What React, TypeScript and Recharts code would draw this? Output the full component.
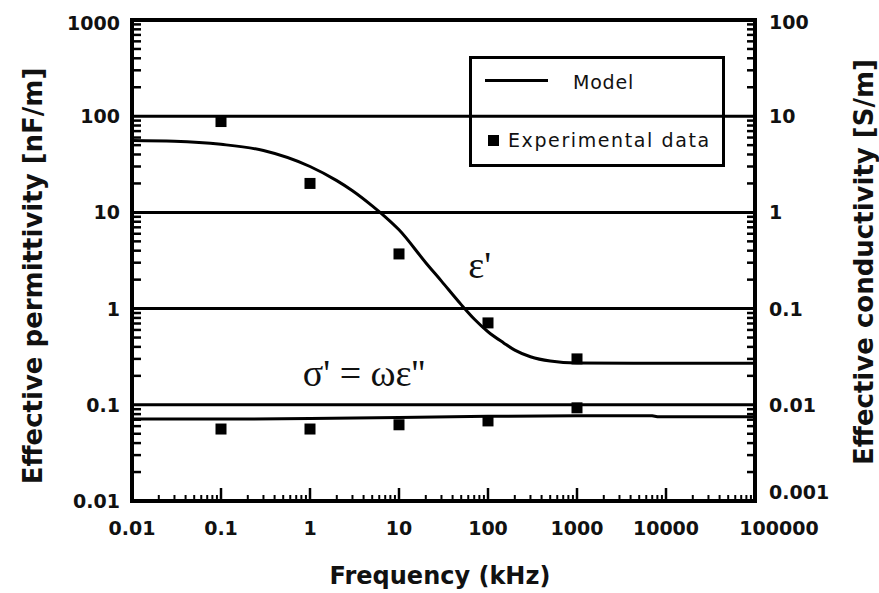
import React from 'react';
import {
  ComposedChart,
  Line,
  Scatter,
  XAxis,
  YAxis,
  ReferenceLine,
  ReferenceDot,
} from 'recharts';

// axis decades (tick labels)
const frequencyTicks = [0.01, 0.1, 1, 10, 100, 1000, 10000, 100000];
const permittivityTicks = [0.01, 0.1, 1, 10, 100, 1000];
const conductivityTicks = [0.001, 0.01, 0.1, 1, 10, 100];
const gridLevels = [0.1, 1, 10, 100];

// model curve, effective permittivity (nF/m)
const modelEpsFreq = [0.01, 0.03, 0.1, 0.3, 1, 2, 3, 5, 7, 10, 20, 30, 50, 70, 100, 150, 200, 300, 500, 1000, 10000, 100000];
const modelEps = [56, 55, 51, 44, 30, 21.4, 16.8, 11.7, 9.0, 6.6, 3.0, 1.93, 1.1, 0.78, 0.575, 0.44, 0.37, 0.316, 0.285, 0.272, 0.27, 0.27];

// model curve, effective conductivity (S/m)
const modelSigmaFreq = [0.01, 0.1, 1, 10, 100, 1000, 7000, 8000, 100000];
const modelSigma = [0.0071, 0.0071, 0.0072, 0.0074, 0.0076, 0.0077, 0.0077, 0.0075, 0.0075];

// experimental points
const expFreq = [0.1, 1, 10, 100, 1000];
const expEps = [88, 20, 3.7, 0.71, 0.3];
const expSigma = [0.0056, 0.0056, 0.0062, 0.0068, 0.0093];

const epsLine = modelEpsFreq.map((f, i) => ({ f, eps: modelEps[i] }));
const sigmaLine = modelSigmaFreq.map((f, i) => ({ f, sigma: modelSigma[i] }));
const epsPoints = expFreq.map((f, i) => ({ f, eps: expEps[i] }));
const sigmaPoints = expFreq.map((f, i) => ({ f, sigma: expSigma[i] }));

const minorOf = (decades: number[]) =>
  decades
    .slice(0, -1)
    .flatMap((d) => [2, 3, 4, 5, 6, 7, 8, 9].map((k) => +(d * k).toPrecision(3)));

const TICK_FONT = 'DejaVu Sans';
const GAP = 10;

// tick lengths in pixels, turned into log-axis offsets (px per decade)
// segments start a little inside the domain, an end point on the edge is dropped
const X_DECADE_PX = 89;
const Y_DECADE_PX = 96;
const upBy = (v: number, px: number) => v * Math.pow(10, px / Y_DECADE_PX);
const rightBy = (v: number, px: number) => v * Math.pow(10, px / X_DECADE_PX);

const BottomLabel = (props: any) => {
  const { x, y, payload } = props;
  const v = payload.value;
  const last = v === 100000;
  return (
    <text
      x={x + (last ? 24 : 0)}
      y={y + 17}
      textAnchor="middle"
      dominantBaseline="central"
      fontFamily={TICK_FONT}
      fontWeight="bold"
      fontSize={19}
      fill="#111"
    >
      {String(v)}
    </text>
  );
};

const LeftLabel = (props: any) => {
  const { x, y, payload } = props;
  const v = payload.value;
  return (
    <text
      x={x - 2}
      y={y + (v === 1000 ? 3 : 0)}
      textAnchor="end"
      dominantBaseline="central"
      fontFamily={TICK_FONT}
      fontWeight="bold"
      fontSize={19}
      fill="#111"
    >
      {String(v)}
    </text>
  );
};

const RightLabel = (props: any) => {
  const { x, y, payload } = props;
  const v = payload.value;
  return (
    <text
      x={x + 4}
      y={y + (v === 0.001 ? -9 : v === 100 ? 2 : 0)}
      textAnchor="start"
      dominantBaseline="central"
      fontFamily={TICK_FONT}
      fontWeight="bold"
      fontSize={19}
      fill="#111"
    >
      {String(v)}
    </text>
  );
};

const square = (p: any) => (
  <rect x={p.cx - 5.5} y={p.cy - 5.5} width={11} height={11} fill="#000" />
);

const annotation = (text: string, size: number) => (p: any) => {
  const vb = p.viewBox || {};
  const cx = vb.x + (vb.width || 0) / 2;
  const cy = vb.y + (vb.height || 0) / 2;
  return (
    <text x={cx} y={cy} fontFamily="Liberation Serif" fontSize={size} fill="#111">
      {text}
    </text>
  );
};

const axisTitle = (text: string, x: number, y: number, rotate: boolean, size: number) => (
  <text
    x={x}
    y={y}
    textAnchor="middle"
    fontFamily={TICK_FONT}
    fontWeight="bold"
    fontSize={size}
    fill="#111"
    transform={rotate ? `rotate(-90, ${x}, ${y})` : undefined}
  >
    {text}
  </text>
);

const frame = { stroke: '#000', strokeWidth: 4, strokeLinecap: 'square' as const };

export default function App() {
  return (
    <div style={{ position: 'absolute', left: 0, top: 0, width: 879, height: 593, background: '#fff' }}>
      <ComposedChart width={879} height={593} margin={{ top: 20, right: 0, bottom: 0, left: 0 }}>
        <XAxis
          dataKey="f"
          type="number"
          scale="log"
          domain={[0.01, 100000]}
          allowDataOverflow
          ticks={frequencyTicks}
          interval={0}
          tick={BottomLabel}
          tickLine={false}
          tickSize={0}
          tickMargin={GAP}
          axisLine={frame}
          height={92}
          label={() => axisTitle('Frequency (kHz)', 440, 584, false, 24)}
        />
        <YAxis
          yAxisId="left"
          dataKey="eps"
          type="number"
          scale="log"
          domain={[0.01, 1000]}
          allowDataOverflow
          ticks={permittivityTicks}
          interval={0}
          tick={LeftLabel}
          tickLine={false}
          tickSize={0}
          tickMargin={GAP}
          axisLine={frame}
          width={132}
          label={() => axisTitle('Effective permittivity [nF/m]', 42, 276, true, 26)}
        />
        <YAxis
          yAxisId="right"
          orientation="right"
          dataKey="sigma"
          type="number"
          scale="log"
          domain={[0.001, 100]}
          allowDataOverflow
          ticks={conductivityTicks}
          interval={0}
          tick={RightLabel}
          tickLine={false}
          tickSize={0}
          tickMargin={GAP}
          axisLine={frame}
          width={124}
          label={() => axisTitle('Effective conductivity [S/m]', 873, 262, true, 26)}
        />

        {gridLevels.map((v) => (
          <ReferenceLine key={v} yAxisId="left" y={v} stroke="#000" strokeWidth={3} />
        ))}
        <ReferenceLine yAxisId="left" y={1000} stroke="#000" strokeWidth={4} />

        {/* inward tick marks along the frame */}
        {frequencyTicks.slice(1, -1).map((f) => (
          <ReferenceLine
            key={`xM${f}`}
            yAxisId="left"
            ifOverflow="visible"
            segment={[{ x: f, y: 0.0105 }, { x: f, y: upBy(0.01, 13) }]}
            stroke="#000"
            strokeWidth={2.5}
          />
        ))}
        {minorOf(frequencyTicks).map((f) => (
          <ReferenceLine
            key={`xm${f}`}
            yAxisId="left"
            ifOverflow="visible"
            segment={[{ x: f, y: 0.0105 }, { x: f, y: upBy(0.01, 6) }]}
            stroke="#000"
            strokeWidth={2}
          />
        ))}
        {minorOf(permittivityTicks).map((v) => (
          <ReferenceLine
            key={`lm${v}`}
            yAxisId="left"
            ifOverflow="visible"
            segment={[{ x: 0.0105, y: v }, { x: rightBy(0.01, 9), y: v }]}
            stroke="#000"
            strokeWidth={2.5}
          />
        ))}
        {minorOf(conductivityTicks).map((v) => (
          <ReferenceLine
            key={`rm${v}`}
            yAxisId="right"
            ifOverflow="visible"
            segment={[{ x: rightBy(100000, -8), y: v }, { x: 95000, y: v }]}
            stroke="#000"
            strokeWidth={2.5}
          />
        ))}

        <Line
          yAxisId="left"
          data={epsLine}
          dataKey="eps"
          type="monotone"
          stroke="#000"
          strokeWidth={3}
          dot={false}
          isAnimationActive={false}
        />
        <Line
          yAxisId="right"
          data={sigmaLine}
          dataKey="sigma"
          type="linear"
          stroke="#000"
          strokeWidth={3}
          dot={false}
          isAnimationActive={false}
        />
        <Scatter yAxisId="left" data={epsPoints} dataKey="eps" shape={square} isAnimationActive={false} />
        <Scatter yAxisId="right" data={sigmaPoints} dataKey="sigma" shape={square} isAnimationActive={false} />

        <ReferenceDot yAxisId="left" x={60} y={2.1} r={0} fill="none" stroke="none" label={annotation("ε'", 38)} />
        <ReferenceDot yAxisId="left" x={0.83} y={0.158} r={0} fill="none" stroke="none" label={annotation("σ' = ωε''", 38)} />
      </ComposedChart>

      <div
        style={{
          position: 'absolute',
          left: 469,
          top: 56,
          width: 256,
          height: 111,
          border: '3px solid #000',
          boxSizing: 'border-box',
          fontFamily: TICK_FONT,
          fontSize: 19,
          color: '#111',
        }}
      >
        <div style={{ position: 'absolute', left: 13, top: 20, width: 63, height: 3, background: '#000' }} />
        <div style={{ position: 'absolute', left: 101, top: 11, lineHeight: '24px', letterSpacing: 0.8 }}>Model</div>
        <div style={{ position: 'absolute', left: 16, top: 76, width: 11, height: 11, background: '#000' }} />
        <div style={{ position: 'absolute', left: 36, top: 69, lineHeight: '24px', letterSpacing: 1.6 }}>
          Experimental data
        </div>
      </div>
    </div>
  );
}
